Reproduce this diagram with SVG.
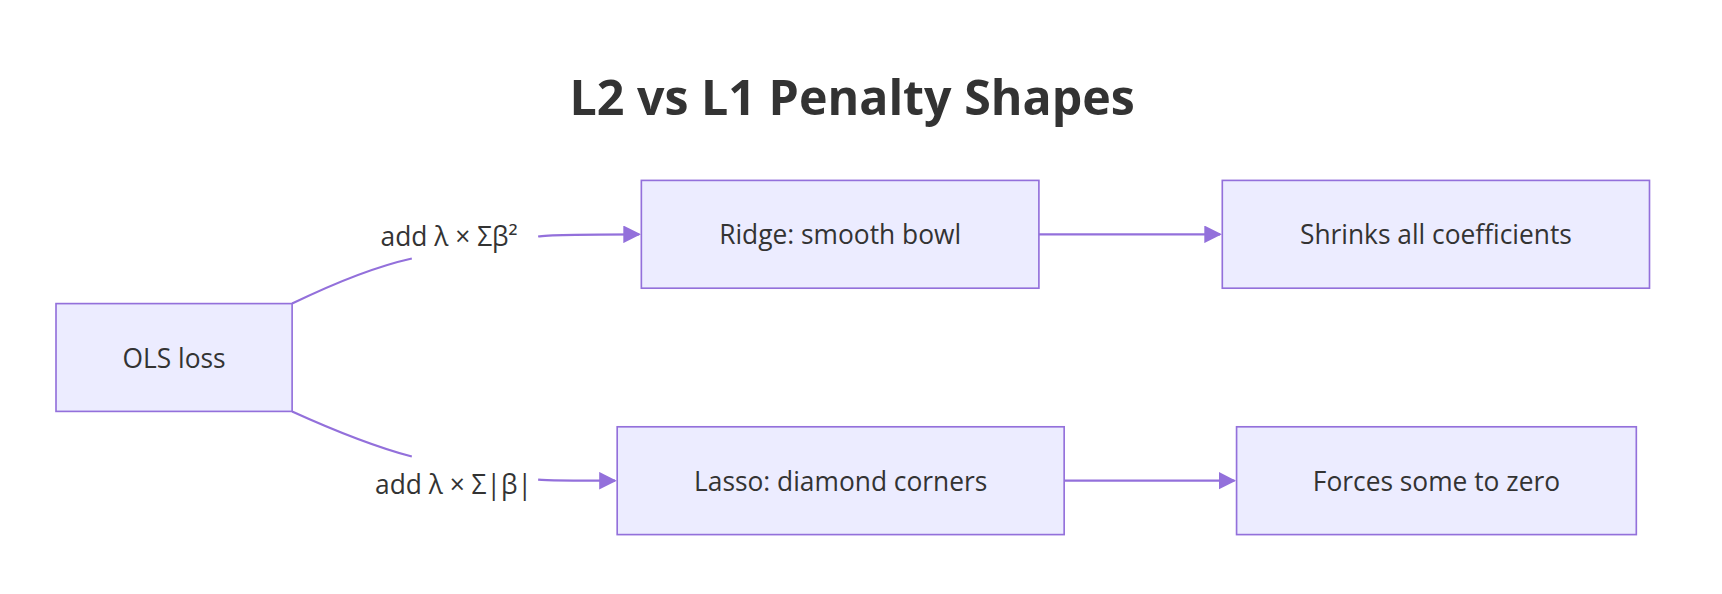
<svg xmlns="http://www.w3.org/2000/svg" width="1722" height="594" viewBox="0 0 1722 594">
<defs>
<style>
.n rect{fill:#ECECFF;stroke:#9370DB;stroke-width:1.5}
text{font-family:"Segoe UI","Open Sans","Liberation Sans",sans-serif;fill:#333}
.t{font-size:24px;text-anchor:middle;dominant-baseline:central}
.e path{fill:none;stroke:#9370DB;stroke-width:2}
.title{font-size:44px;font-weight:bold;text-anchor:middle}
</style>
<marker id="a" viewBox="0 0 10 10" refX="9" refY="5" markerWidth="8" markerHeight="8" orient="auto" markerUnits="userSpaceOnUse"><path d="M0,0L10,5L0,10z" fill="#9370DB"/></marker>
<marker id="ah" viewBox="0 0 10 10" refX="9" refY="5" markerWidth="16" markerHeight="16" orient="auto" markerUnits="userSpaceOnUse"><path d="M0,0L10,5L0,10z" fill="#9370DB"/></marker>
</defs>
<rect width="1722" height="594" fill="#fff"/>
<g transform="scale(1.0982,1.1)">
<text class="title" x="776" y="105">L2 vs L1 Penalty Shapes</text>
<g class="e" id="edges">
<path d="M266,276 Q330,245 375,235"/>
<path d="M490,215 Q500,213 582,213" marker-end="url(#ah)"/>
<path d="M266,374 Q330,403 375,415"/>
<path d="M490,436 Q500,437 560,437" marker-end="url(#ah)"/>
<path d="M946,213 L1111,213" marker-end="url(#ah)"/>
<path d="M969,437 L1124,437" marker-end="url(#ah)"/>
<rect x="0" y="0" width="0" height="0"/>
</g>
<text class="t" x="409" y="215">add λ × Σβ²</text>
<text class="t" x="413" y="440">add λ × Σ|β|</text>
<g class="n" id="ols"><rect x="51" y="276" width="215" height="98"/><text class="t" x="158.5" y="325">OLS loss</text></g>
<g class="n" id="ridge"><rect x="584" y="164" width="362" height="98"/><text class="t" x="765" y="213">Ridge: smooth bowl</text></g>
<g class="n" id="shrinks"><rect x="1113" y="164" width="389" height="98"/><text class="t" x="1307.5" y="213">Shrinks all coefficients</text></g>
<g class="n" id="lasso"><rect x="562" y="388" width="407" height="98"/><text class="t" x="765.5" y="437">Lasso: diamond corners</text></g>
<g class="n" id="forces"><rect x="1126" y="388" width="364" height="98"/><text class="t" x="1308" y="437">Forces some to zero</text></g>
</g>
</svg>
